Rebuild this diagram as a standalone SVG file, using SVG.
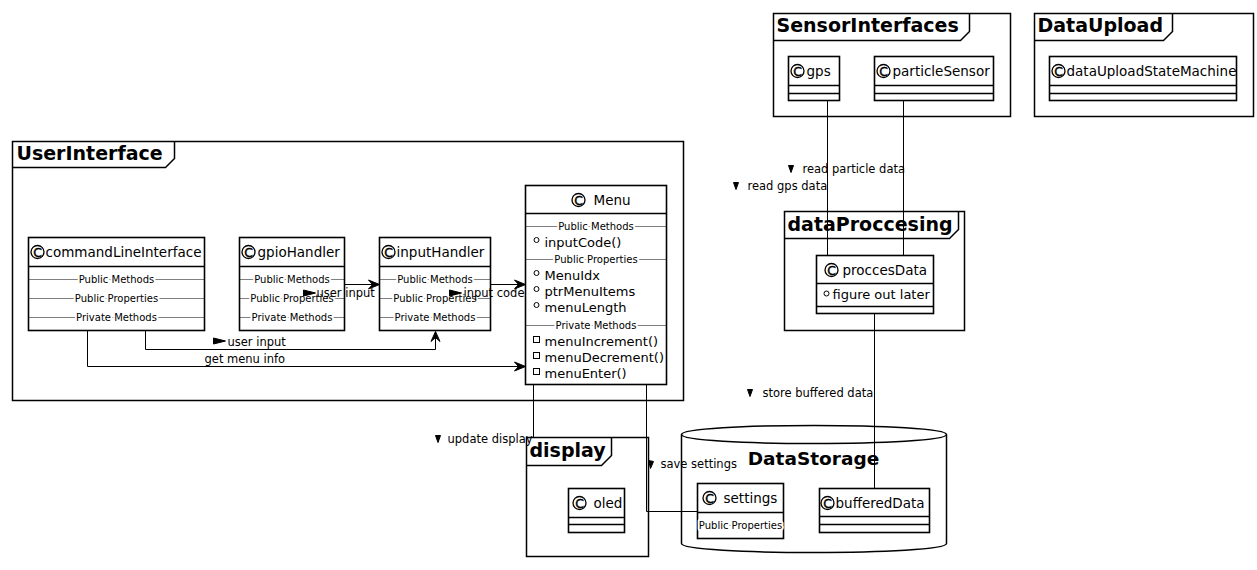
<svg xmlns="http://www.w3.org/2000/svg" width="1257" height="570" viewBox="0 0 1257 570">
<defs>
<style>
text{font-family:"DejaVu Sans","Liberation Sans",sans-serif;fill:#000}
.pk{fill:none;stroke:#000;stroke-width:1.5}
.pt{font-size:19px;font-weight:bold}
.box{fill:#fff;stroke:#000;stroke-width:1.6}
.hl{stroke:#000;stroke-width:1.5}
.ic{fill:#fff;stroke:#000;stroke-width:1.3}
.ict{font-size:12.5px;text-anchor:middle;stroke:#000;stroke-width:0.4px}
.cn{font-size:13.5px}
.mb{font-size:13px}
.sep{stroke:#000;stroke-width:1;stroke-dasharray:1 1}
.st{font-size:10px;text-anchor:middle;stroke:#fff;stroke-width:4px;paint-order:stroke;stroke-linejoin:round}
.bul{fill:#fff;stroke:#000;stroke-width:1}
.ln{fill:none;stroke:#000;stroke-width:1}
.lb{font-size:11.5px}
.ah{fill:#000;stroke:#000;stroke-width:1}
</style>
</defs>
<rect width="1257" height="570" fill="#fff"/>
<g transform="translate(0.5 0.5)">

<g id="pkg-UserInterface">
<rect class="pk" x="12" y="141" width="671" height="259"/>
<path class="pk" d="M12,167 H165 L174,158 V141"/>
<text class="pt" x="16" y="159">UserInterface</text>
</g>
<g id="pkg-SensorInterfaces">
<rect class="pk" x="773" y="13" width="237" height="103"/>
<path class="pk" d="M773,40 H960 L969,31 V13"/>
<text class="pt" x="776" y="31">SensorInterfaces</text>
</g>
<g id="pkg-DataUpload">
<rect class="pk" x="1034" y="13" width="219" height="103"/>
<path class="pk" d="M1034,40 H1163 L1172,31 V13"/>
<text class="pt" x="1037" y="31">DataUpload</text>
</g>
<g id="pkg-dataProccesing">
<rect class="pk" x="784" y="211" width="180" height="119"/>
<path class="pk" d="M784,238 H949 L958,229 V211"/>
<text class="pt" x="787" y="230">dataProccesing</text>
</g>
<g id="pkg-display">
<rect class="pk" x="526" y="437" width="122" height="119"/>
<path class="pk" d="M526,465 H601 L611,455 V437"/>
<text class="pt" x="529" y="456">display</text>
</g>
<g id="pkg-DataStorage">
<path class="pk" d="M681,434 C681,422 946,422 946,434 L946,543 C946,555 681,555 681,543 Z"/>
<path class="pk" d="M681,434 C681,446 946,446 946,434"/>
<text x="813" y="464" style="font-size:18.5px;font-weight:bold;text-anchor:middle">DataStorage</text>
</g>

<g id="commandLineInterface">
<rect class="box" x="28" y="237" width="176" height="93"/>
<line class="hl" x1="28" y1="266" x2="204" y2="266"/>
<circle class="ic" cx="37" cy="251.5" r="6.5"/><text class="ict" x="37" y="256">C</text>
<text class="cn" x="45" y="256">commandLineInterface</text>
<line class="sep" x1="28" y1="279" x2="204" y2="279"/><text class="st" x="116" y="282.5">Public Methods</text>
<line class="sep" x1="28" y1="298" x2="204" y2="298"/><text class="st" x="116" y="301.5">Public Properties</text>
<line class="sep" x1="28" y1="317" x2="204" y2="317"/><text class="st" x="116" y="320.5">Private Methods</text>
</g>

<g id="gpioHandler">
<rect class="box" x="239" y="237" width="105" height="93"/>
<line class="hl" x1="239" y1="266" x2="344" y2="266"/>
<circle class="ic" cx="248" cy="251.5" r="6.5"/><text class="ict" x="248" y="256">C</text>
<text class="cn" x="257" y="256">gpioHandler</text>
<line class="sep" x1="239" y1="279" x2="344" y2="279"/><text class="st" x="291.5" y="282.5">Public Methods</text>
<line class="sep" x1="239" y1="298" x2="344" y2="298"/><text class="st" x="291.5" y="301.5">Public Properties</text>
<line class="sep" x1="239" y1="317" x2="344" y2="317"/><text class="st" x="291.5" y="320.5">Private Methods</text>
</g>

<g id="inputHandler">
<rect class="box" x="379" y="237" width="111" height="93"/>
<line class="hl" x1="379" y1="266" x2="490" y2="266"/>
<circle class="ic" cx="388" cy="251.5" r="6.5"/><text class="ict" x="388" y="256">C</text>
<text class="cn" x="396" y="256">inputHandler</text>
<line class="sep" x1="379" y1="279" x2="490" y2="279"/><text class="st" x="434.5" y="282.5">Public Methods</text>
<line class="sep" x1="379" y1="298" x2="490" y2="298"/><text class="st" x="434.5" y="301.5">Public Properties</text>
<line class="sep" x1="379" y1="317" x2="490" y2="317"/><text class="st" x="434.5" y="320.5">Private Methods</text>
</g>

<g id="Menu">
<rect class="box" x="525" y="185" width="141" height="199"/>
<line class="hl" x1="525" y1="213" x2="666" y2="213"/>
<circle class="ic" cx="578" cy="199.5" r="6.5"/><text class="ict" x="578" y="204">C</text>
<text class="cn" x="593" y="204">Menu</text>
<line class="sep" x1="525" y1="226" x2="666" y2="226"/><text class="st" x="595.5" y="229.5">Public Methods</text>
<circle class="bul" cx="536" cy="239.5" r="2.5"/><text class="mb" x="544" y="246">inputCode()</text>
<line class="sep" x1="525" y1="259" x2="666" y2="259"/><text class="st" x="595.5" y="262.5">Public Properties</text>
<circle class="bul" cx="536" cy="272.5" r="2.5"/><text class="mb" x="544" y="279">MenuIdx</text>
<circle class="bul" cx="536" cy="288.5" r="2.5"/><text class="mb" x="544" y="295">ptrMenuItems</text>
<circle class="bul" cx="536" cy="304.5" r="2.5"/><text class="mb" x="544" y="311">menuLength</text>
<line class="sep" x1="525" y1="325" x2="666" y2="325"/><text class="st" x="595.5" y="328.5">Private Methods</text>
<rect class="bul" x="533" y="336" width="6" height="6"/><text class="mb" x="544" y="345">menuIncrement()</text>
<rect class="bul" x="533" y="352" width="6" height="6"/><text class="mb" x="544" y="361">menuDecrement()</text>
<rect class="bul" x="533" y="368" width="6" height="6"/><text class="mb" x="544" y="377">menuEnter()</text>
</g>

<g id="gps">
<rect class="box" x="788" y="56" width="51" height="44"/>
<line class="hl" x1="788" y1="85" x2="839" y2="85"/>
<line class="hl" x1="788" y1="93" x2="839" y2="93"/>
<circle class="ic" cx="797" cy="70.5" r="6.5"/><text class="ict" x="797" y="75">C</text>
<text class="cn" x="806" y="75">gps</text>
</g>

<g id="particleSensor">
<rect class="box" x="874" y="56" width="119" height="44"/>
<line class="hl" x1="874" y1="85" x2="993" y2="85"/>
<line class="hl" x1="874" y1="93" x2="993" y2="93"/>
<circle class="ic" cx="883" cy="70.5" r="6.5"/><text class="ict" x="883" y="75">C</text>
<text class="cn" x="892" y="75">particleSensor</text>
</g>

<g id="dataUploadStateMachine">
<rect class="box" x="1049" y="56" width="187" height="44"/>
<line class="hl" x1="1049" y1="85" x2="1236" y2="85"/>
<line class="hl" x1="1049" y1="93" x2="1236" y2="93"/>
<circle class="ic" cx="1058" cy="70.5" r="6.5"/><text class="ict" x="1058" y="75">C</text>
<text class="cn" x="1066" y="75">dataUploadStateMachine</text>
</g>

<g id="proccesData">
<rect class="box" x="816" y="255" width="117" height="58"/>
<line class="hl" x1="816" y1="283" x2="933" y2="283"/>
<line class="hl" x1="816" y1="306" x2="933" y2="306"/>
<circle class="ic" cx="831" cy="269.5" r="6.5"/><text class="ict" x="831" y="274">C</text>
<text class="cn" x="842" y="274">proccesData</text>
<circle class="bul" cx="826" cy="293" r="2.5"/><text class="mb" x="832" y="298">figure out later</text>
</g>

<g id="oled">
<rect class="box" x="568" y="488" width="56" height="44"/>
<line class="hl" x1="568" y1="517" x2="624" y2="517"/>
<line class="hl" x1="568" y1="524" x2="624" y2="524"/>
<circle class="ic" cx="579" cy="502.5" r="6.5"/><text class="ict" x="579" y="507">C</text>
<text class="cn" x="593" y="507">oled</text>
</g>

<g id="settings">
<rect class="box" x="697" y="483" width="86" height="55"/>
<line class="hl" x1="697" y1="512" x2="783" y2="512"/>
<circle class="ic" cx="709" cy="497.5" r="6.5"/><text class="ict" x="709" y="502">C</text>
<text class="cn" x="723" y="502">settings</text>
<line class="sep" x1="697" y1="525" x2="783" y2="525"/><text class="st" x="740" y="528.5">Public Properties</text>
</g>

<g id="bufferedData">
<rect class="box" x="819" y="488" width="110" height="44"/>
<line class="hl" x1="819" y1="516" x2="929" y2="516"/>
<line class="hl" x1="819" y1="524" x2="929" y2="524"/>
<circle class="ic" cx="827" cy="502.5" r="6.5"/><text class="ict" x="827" y="507">C</text>
<text class="cn" x="835" y="507">bufferedData</text>
</g>

<g id="connectors">
<path class="ln" d="M344,284 H379"/>
<polygon class="ah" points="379,284 368,279.5 372,284 368,288.5"/>
<polygon class="ah" points="303,289.5 315,292.5 303,295.5"/>
<text class="lb" x="316" y="296">user input</text>

<path class="ln" d="M490,284 H525"/>
<polygon class="ah" points="525,284 514,279.5 518,284 514,288.5"/>
<polygon class="ah" points="449,289.5 461,292.5 449,295.5"/>
<text class="lb" x="463" y="296">input code</text>

<path class="ln" d="M145,330 V349 H435 V331"/>
<polygon class="ah" points="435,331 430.5,341 435,337 439.5,341"/>
<polygon class="ah" points="213,337.5 225,340.5 213,343.5"/>
<text class="lb" x="227" y="345">user input</text>

<path class="ln" d="M87,330 V366 H525"/>
<polygon class="ah" points="525,366 514,361.5 518,366 514,370.5"/>
<text class="lb" x="204" y="362">get menu info</text>

<path class="ln" d="M533,384 V437"/>
<polygon class="ah" points="435,435 440,435 437.5,442"/>
<text class="lb" x="447" y="442">update display</text>

<path class="ln" d="M646,384 V511 H697"/>
<polygon class="ah" points="648,460 653,461 650,468"/>
<text class="lb" x="660" y="467">save settings</text>

<path class="ln" d="M827,100 V255"/>
<polygon class="ah" points="733,182 738,182 735.5,189"/>
<text class="lb" x="747" y="189">read gps data</text>

<path class="ln" d="M903,100 V255"/>
<polygon class="ah" points="788,165 793,165 790.5,172"/>
<text class="lb" x="802" y="172">read particle data</text>

<path class="ln" d="M874,313 V488"/>
<polygon class="ah" points="747,389 752,389 749.5,396"/>
<text class="lb" x="762" y="396">store buffered data</text>
</g>
</g>
</svg>
